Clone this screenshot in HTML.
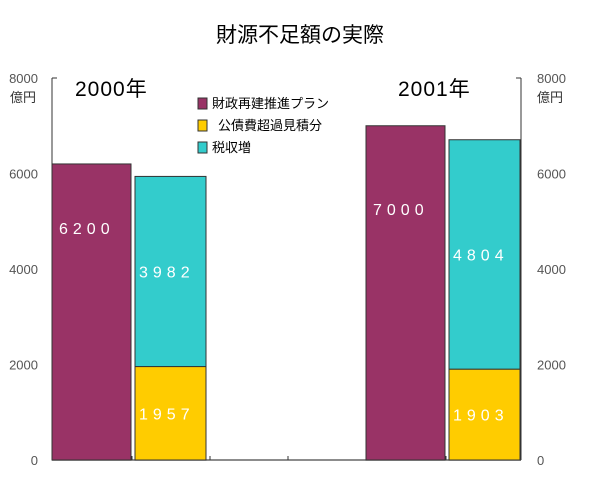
<!DOCTYPE html>
<html><head><meta charset="utf-8"><style>
body{margin:0;background:#fff;width:600px;height:475px;overflow:hidden}
svg text{font-family:"Liberation Sans","Noto Sans CJK JP",sans-serif}
</style></head><body>
<svg id="chart" width="600" height="475">
<text x="300" y="42" text-anchor="middle" font-size="21" fill="#000">財源不足額の実際</text>
<g id="axes"></g>
<g id="bars"></g>
<g>
<rect x="198" y="98" width="9" height="11" fill="#993366" stroke="#333"/>
<text x="212" y="108" font-size="13">財政再建推進プラン</text>
<rect x="198" y="120" width="9" height="11" fill="#ffcc00" stroke="#333"/>
<text x="218" y="130" font-size="13">公債費超過見積分</text>
<rect x="198" y="142" width="9" height="11" fill="#33cccc" stroke="#333"/>
<text x="212" y="152" font-size="13">税収増</text>
</g>
<text x="75" y="96" font-size="21" letter-spacing="1">2000年</text>
<text x="398" y="96" font-size="21" letter-spacing="1">2001年</text>
<text x="36" y="102" font-size="13" text-anchor="end" fill="#333">億円</text>
<text x="537" y="102" font-size="13" fill="#333">億円</text>
</svg>
<script>
const ticks=[0,2000,4000,6000,8000];
const plan=[6200,7000];
const bond=[1957,1903];
const tax=[3982,4804];
const NS="http://www.w3.org/2000/svg";
const y0=460,y1=78,x0=52,x1=521,max=8000;
function y(v){return y0-(v/max)*(y0-y1);}
function mk(t,a,p){const e=document.createElementNS(NS,t);for(const k in a)e.setAttribute(k,a[k]);p.appendChild(e);return e;}
const ax=document.getElementById('axes'),bg=document.getElementById('bars');
let e=mk('line',{x1:x0,y1:y1,x2:x0,y2:y0,stroke:'#333'},ax);


e=mk('line',{x1:x1,y1:y1,x2:x1,y2:y0,stroke:'#333'},ax);


e=mk('line',{x1:x0,y1:y0,x2:x1,y2:y0,stroke:'#666','stroke-width':1.5},ax);


[132,210,288,446].forEach(tx=>{mk('line',{x1:tx,y1:y0,x2:tx,y2:y0-4,stroke:'#333'},ax);});
ticks.forEach(t=>{
 mk('line',{x1:x0,y1:y(t),x2:x0+5,y2:y(t),stroke:'#333'},ax);
 mk('line',{x1:x1,y1:y(t),x2:x1-5,y2:y(t),stroke:'#333'},ax);
 let a=mk('text',{x:38,y:y(t)+5,'font-size':13,'text-anchor':'end',fill:'#555'},ax);a.textContent=t;
 
 
 let b=mk('text',{x:537,y:y(t)+5,'font-size':13,fill:'#555'},ax);b.textContent=t;
 
 
});
const g1=[52,366],g2=[135,449];
function lbl(x,yy,v){const t=mk('text',{x:x,y:yy,'font-size':16,fill:'#fff','letter-spacing':5},bg);t.textContent=v;
 
 }
for(let i=0;i<2;i++){
 let r=mk('rect',{x:g1[i],y:y(plan[i]),width:79,height:y0-y(plan[i]),fill:'#993366',stroke:'#333'},bg);
 
 
 r=mk('rect',{x:g2[i],y:y(bond[i]),width:71,height:y0-y(bond[i]),fill:'#ffcc00',stroke:'#333'},bg);
 
 
 r=mk('rect',{x:g2[i],y:y(bond[i]+tax[i]),width:71,height:y(bond[i])-y(bond[i]+tax[i]),fill:'#33cccc',stroke:'#333'},bg);
 
 
 lbl(g1[i]+7,(y(plan[i])+y0)/2-78,plan[i]);
 lbl(g2[i]+4,(y(bond[i])+y(bond[i]+tax[i]))/2+6,tax[i]);
 lbl(g2[i]+4,(y(bond[i])+y0)/2+6,bond[i]);
}
</script>
</body></html>
